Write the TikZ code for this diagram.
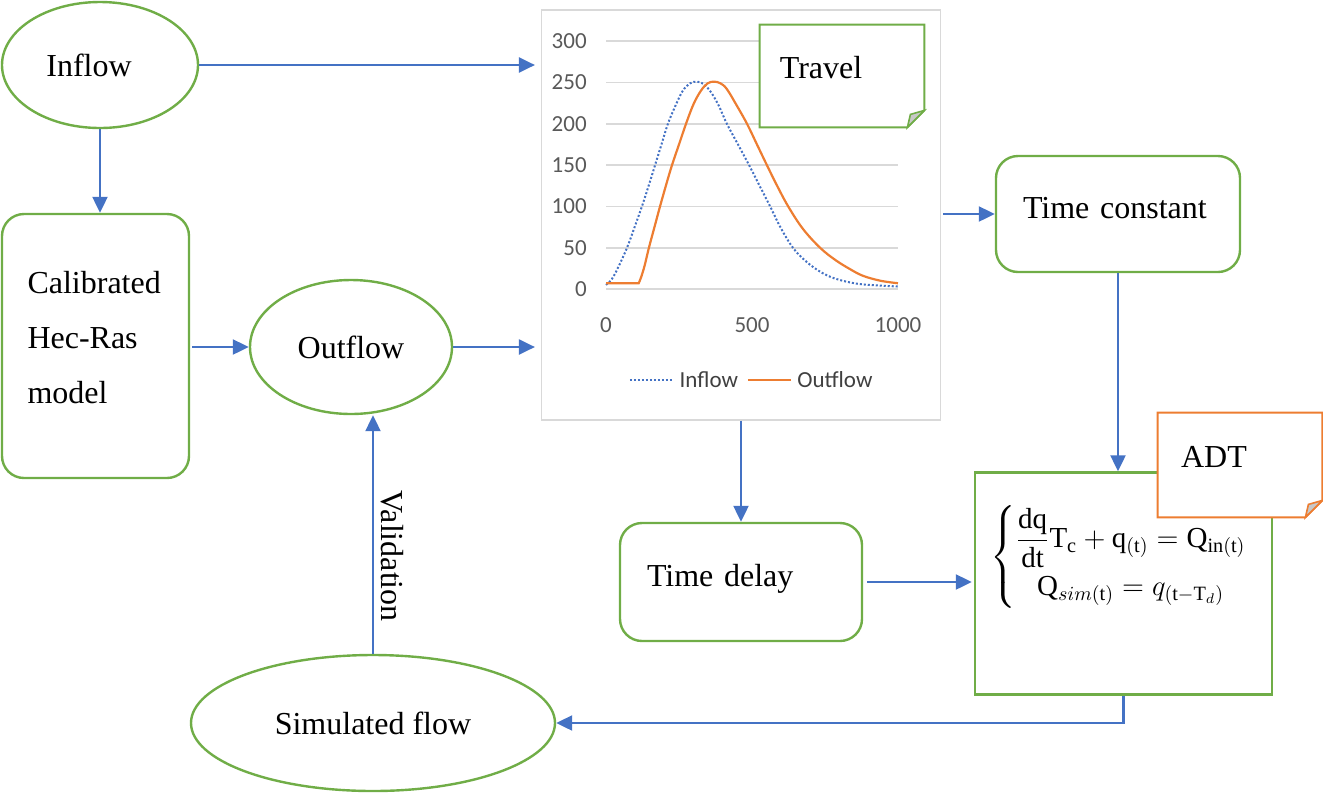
\documentclass[tikz,border=0pt]{standalone}
\usepackage{amsmath}
\usepackage{fontspec}
\setmainfont{Liberation Serif}
\newfontfamily\chartfont{Carlito}
\usetikzlibrary{shapes.geometric,arrows.meta,positioning}
\definecolor{boxgreen}{RGB}{112,173,71}
\definecolor{linkblue}{RGB}{68,114,196}
\definecolor{noteorange}{RGB}{237,125,49}
\definecolor{gridgray}{RGB}{217,217,217}
\definecolor{ticktext}{RGB}{89,89,89}
\definecolor{foldgray}{RGB}{200,200,200}

\begin{document}
\begin{tikzpicture}
            [x=0.5pt,y=-0.5pt,
             every node/.style={font=\fontsize{16}{27.5}\selectfont},
             oval/.style={ellipse,draw=boxgreen,line width=1.2pt,inner sep=0pt},
             roundbox/.style={draw=boxgreen,line width=1.2pt,rounded corners=11pt,align=left,inner xsep=12.5pt},
             flow/.style={draw=linkblue,line width=1.1pt,-{Triangle[length=8pt,width=7.5pt]}},
             notebox/.style={inner sep=0pt},
             tick/.style={font=\chartfont\fontsize{11.5}{13}\selectfont,text=ticktext,inner sep=1pt},
             gridline/.style={draw=gridgray,line width=0.8pt}]
            \useasboundingbox (0,0) rectangle (1323,794);
            \node[oval,minimum width=98pt,minimum height=63pt] (inflow) at (100,65) {Inflow\rule{11pt}{0pt}};
            \node[roundbox,minimum width=93.5pt,minimum height=132pt,text width=68pt,text depth=64pt] (calib) at (95.5,346) {Calibrated\\Hec-Ras\\model};
            \node[oval,minimum width=101pt,minimum height=67pt] (outflow) at (351,347) {Outflow};
            \node[oval,minimum width=182pt,minimum height=68pt] (simflow) at (373,723) {Simulated flow};
            \node[draw=gridgray,line width=0.6pt,minimum width=199.5pt,minimum height=205pt,inner sep=0pt] (chart) at (741,215) {};
            \node[roundbox,minimum width=122pt,minimum height=58pt,text width=95pt,text depth=6pt] (tconst) at (1118,214) {Time constant};
            \node[roundbox,minimum width=121pt,minimum height=59pt,text width=94pt,text depth=6.5pt] (tdelay) at (741,582) {Time delay};
            \node[draw=boxgreen,line width=1.2pt,minimum width=148.5pt,minimum height=111pt,inner sep=0pt] (adt) at (1123.5,583.5) {};
            \node[font=\fontsize{14.5}{17}\selectfont] (eq) at (1119,557)
                {$\left\{\begin{array}{@{}c@{}}
                 \dfrac{\mathrm{dq}}{\mathrm{dt}}\mathrm{T}_{\mathrm{c}}+\mathrm{q}_{(\mathrm{t})}=\mathrm{Q}_{\mathrm{in(t)}}\\[7pt]
                 \mathrm{Q}_{sim(\mathrm{t})}=q_{(\mathrm{t}-\mathrm{T}_{d})}
                 \end{array}\right.$};
            %
            % chart
            \begin{scope}[shift={(606,289)},x=0.146pt,y=0.413pt]
            \draw[gridline] (0,0) -- (1000,0);
            \draw[gridline] (0,50) -- (1000,50);
            \draw[gridline] (0,100) -- (1000,100);
            \draw[gridline] (0,150) -- (1000,150);
            \draw[gridline] (0,200) -- (1000,200);
            \draw[gridline] (0,250) -- (1000,250);
            \draw[gridline] (0,300) -- (1000,300);
            \node[tick,anchor=east] (y0) at (-58,0) {0};
            \node[tick,anchor=east] (y50) at (-58,50) {50};
            \node[tick,anchor=east] (y100) at (-58,100) {100};
            \node[tick,anchor=east] (y150) at (-58,150) {150};
            \node[tick,anchor=east] (y200) at (-58,200) {200};
            \node[tick,anchor=east] (y250) at (-58,250) {250};
            \node[tick,anchor=east] (y300) at (-58,300) {300};
            \node[tick] (x0) at (0,-44) {0};
            \node[tick] (x500) at (500,-44) {500};
            \node[tick] (x1000) at (1000,-44) {1000};
            \draw[linkblue,line width=1pt,dash pattern=on 1pt off 1pt] plot[smooth,tension=0.6] coordinates {(0,5) (20,12) (40,25) (72,50) (98,75) (123,100) (146,125) (168,150) (190,175) (212,200) (238,222) (263,240) (288,249) (312,251) (335,248) (360,238) (386,222) (414,200) (452,175) (490,150) (526,125) (562,100) (600,73) (640,50) (680,35) (720,24) (760,16) (800,11) (850,7) (900,5) (1000,3)};
            \draw[noteorange,line width=1.1pt] (0,7) -- (112,7) -- plot[smooth,tension=0.6] coordinates {(112,7) (120,14) (132,28) (147,50) (166,75) (185,100) (205,125) (226,150) (250,175) (274,200) (300,224) (325,240) (348,249) (370,251) (392,249) (414,242) (448,222) (483,200) (517,175) (551,150) (586,125) (624,100) (674,73) (733,50) (786,35) (836,24) (880,16) (940,10) (1000,7)};
            \coordinate (leg1a) at (82,-110);
            \coordinate (leg1b) at (226,-110);
            \coordinate (leg2a) at (486,-110);
            \coordinate (leg2b) at (634,-110);
            \draw[linkblue,line width=1pt,dash pattern=on 1pt off 1pt] (leg1a) -- (leg1b);
            \draw[noteorange,line width=1.1pt] (leg2a) -- (leg2b);
            \node[tick,anchor=west,text=black!75] (leg1) at (244,-110) {Inflow};
            \node[tick,anchor=west,text=black!75] (leg2) at (647,-110) {Outflow};
            \end{scope}
            %
            % notes
            \node[notebox,minimum width=82pt,minimum height=51pt] (travel) at (842,76) {};
            \draw[boxgreen,line width=1pt,fill=white] (travel.north west) -- (travel.north east) -- ([yshift=8.5pt]travel.south east) -- ([xshift=-8.5pt]travel.south east) -- (travel.south west) -- cycle;
            \draw[boxgreen,line width=0.8pt,fill=foldgray] ([yshift=8.5pt]travel.south east) -- ([xshift=-7pt,yshift=6.5pt]travel.south east) -- ([xshift=-8.5pt]travel.south east) -- cycle;
            \node (traveltext) at (821,68) {Travel};
            \node[notebox,minimum width=82pt,minimum height=52pt] (adtnote) at (1240,465) {};
            \draw[noteorange,line width=1pt,fill=white] (adtnote.north west) -- (adtnote.north east) -- ([yshift=8.5pt]adtnote.south east) -- ([xshift=-8.5pt]adtnote.south east) -- (adtnote.south west) -- cycle;
            \draw[noteorange,line width=0.8pt,fill=foldgray] ([yshift=8.5pt]adtnote.south east) -- ([xshift=-7pt,yshift=6.5pt]adtnote.south east) -- ([xshift=-8.5pt]adtnote.south east) -- cycle;
            \node (adttext) at (1214,457) {ADT};
            %
            \draw[flow] (inflow.east) -- ([xshift=-3pt]chart.west |- inflow.east);
            \draw[flow] (inflow.south) -- (inflow.south |- calib.north);
            \draw[flow] ([xshift=1pt]calib.east |- outflow.west) -- (outflow.west);
            \draw[flow] (outflow.east) -- ([xshift=-3pt]chart.west |- outflow.east);
            \draw[flow] ([xshift=1pt]chart.east |- tconst.west) -- (tconst.west);
            \draw[flow] (tconst.south) -- (tconst.south |- adt.north);
            \draw[flow] (chart.south) -- (chart.south |- tdelay.north);
            \draw[flow] ([xshift=2pt]tdelay.east) -- ([xshift=-1pt]tdelay.east -| adt.west);
            \draw[flow] (adt.south) |- (simflow.east);
            \draw[flow] (simflow.north) -- node[pos=0.41,anchor=south,rotate=-90] (validation) {Validation} (simflow.north |- outflow.south);
        \end{tikzpicture}
\end{document}
